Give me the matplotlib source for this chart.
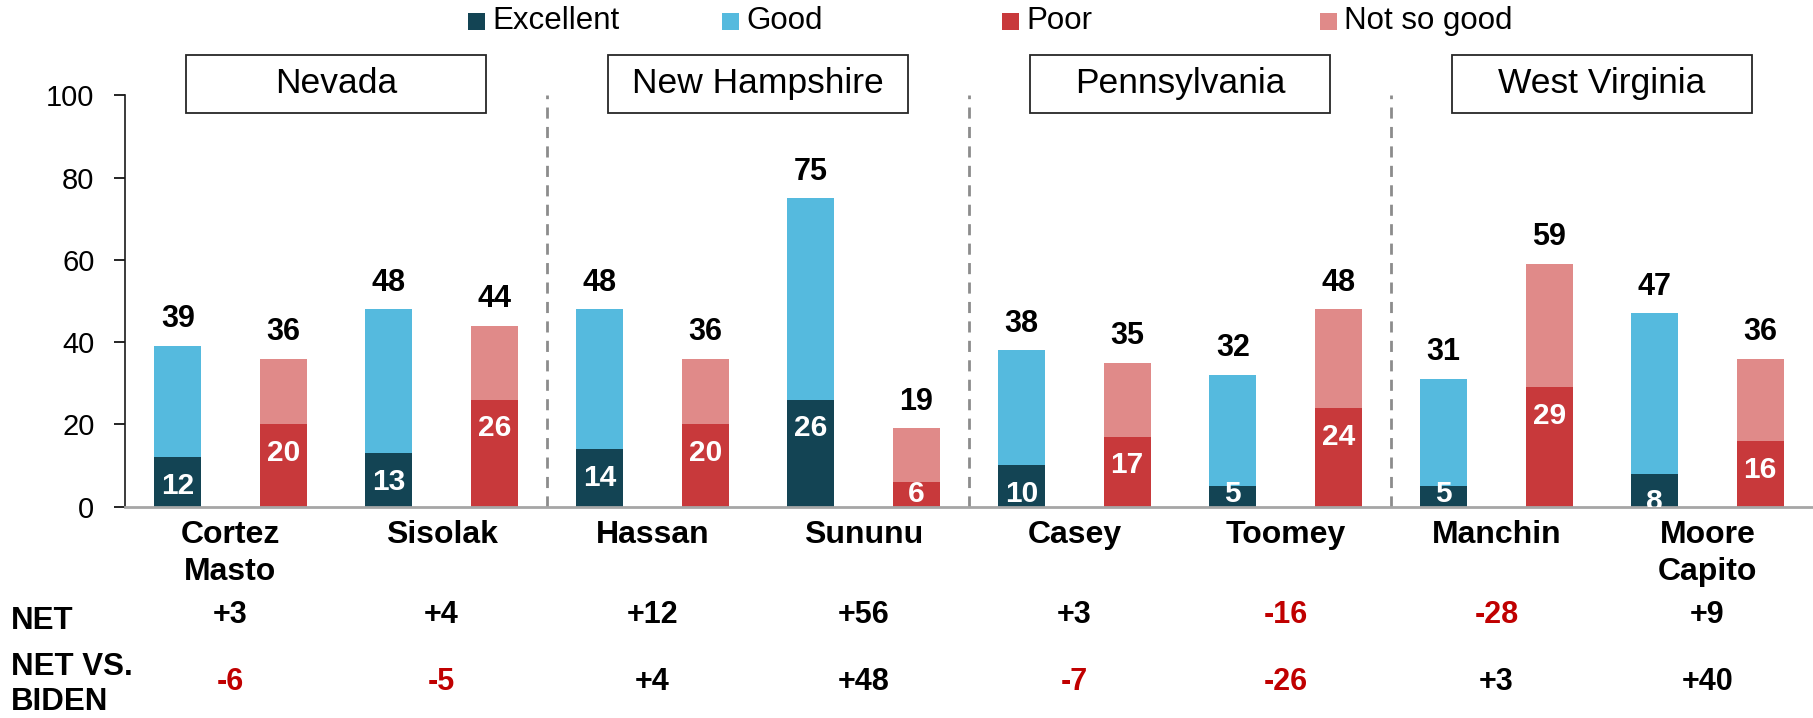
import matplotlib
matplotlib.use("Agg")
import matplotlib.pyplot as plt
from matplotlib.patches import Rectangle
from matplotlib.transforms import blended_transform_factory

plt.rcParams['font.family'] = ['Liberation Sans', 'DejaVu Sans']

# Data
states = ["Nevada", "New Hampshire", "Pennsylvania", "West Virginia"]
candidates = ["Cortez\nMasto", "Sisolak", "Hassan", "Sununu",
              "Casey", "Toomey", "Manchin", "Moore\nCapito"]
excellent = [12, 13, 14, 26, 10, 5, 5, 8]
good = [27, 35, 34, 49, 28, 27, 26, 39]
poor = [20, 26, 20, 6, 17, 24, 29, 16]
not_so_good = [16, 18, 16, 13, 18, 24, 30, 20]
net = [3, 4, 12, 56, 3, -16, -28, 9]
net_vs_biden = [-6, -5, 4, 48, -7, -26, 3, 40]

series_names = ["Excellent", "Good", "Poor", "Not so good"]
colors = {"Excellent": "#134454", "Good": "#55bade",
          "Poor": "#c8393b", "Not so good": "#e08a89"}
neg_red = "#c00000"

W, H = 1813, 718
fig = plt.figure(figsize=(W / 100, H / 100), dpi=100)
ax_left, ax_right, ax_top, ax_bot = 125, 1813, 95.5, 506.5
ax = fig.add_axes([ax_left / W, 1 - ax_bot / H, (ax_right - ax_left) / W, (ax_bot - ax_top) / H])


def px2y(py):
    # figure pixel row -> data value
    return (ax_bot - py) * 100 / (ax_bot - ax_top)


bw = 0.445
n = len(candidates)
pos_x = [2 * k for k in range(n)]
neg_x = [2 * k + 1 for k in range(n)]

ax.bar(pos_x, excellent, bw, color=colors["Excellent"], zorder=2)
ax.bar(pos_x, good, bw, bottom=excellent, color=colors["Good"], zorder=2)
ax.bar(neg_x, poor, bw, color=colors["Poor"], zorder=2)
ax.bar(neg_x, not_so_good, bw, bottom=poor, color=colors["Not so good"], zorder=2)

for k in range(n):
    pos_total = excellent[k] + good[k]
    neg_total = poor[k] + not_so_good[k]
    ax.text(pos_x[k], pos_total + 6.5, str(pos_total), ha='center', va='center',
            fontsize=22, fontweight='bold', color='black')
    ax.text(neg_x[k], neg_total + 6.5, str(neg_total), ha='center', va='center',
            fontsize=22, fontweight='bold', color='black')
    for x, v in ((pos_x[k], excellent[k]), (neg_x[k], poor[k])):
        y = v - 7 if v >= 7 else 3.0
        ax.text(x, y, str(v), ha='center', va='center', fontsize=21.5,
                fontweight='bold', color='white', zorder=3, clip_on=True)

# dashed separators between states
for s in range(1, len(states)):
    ax.plot([4 * s - 0.5, 4 * s - 0.5], [0, 100], ls=(0, (4, 3)), color='#8c8c8c',
            lw=2, zorder=1, clip_on=False)

# state boxes
for s, name in enumerate(states):
    cx = 4 * s + 1.5
    y0, y1 = px2y(112.7), px2y(55)
    ax.add_patch(Rectangle((cx - 1.42, y0), 2.84, y1 - y0, facecolor='white',
                           edgecolor='#262626', lw=1.3, clip_on=False, zorder=4))
    ax.text(cx, (y0 + y1) / 2, name, ha='center', va='center', fontsize=25.5, zorder=5)

ax.set_xlim(-0.5, 2 * n - 0.5)
ax.set_ylim(0, 100)
ax.set_yticks([0, 20, 40, 60, 80, 100])
ax.tick_params(axis='y', labelsize=21, length=8, width=1.2, direction='out', pad=14)
ax.set_xticks([])
for sp in ('top', 'right'):
    ax.spines[sp].set_visible(False)
ax.spines['left'].set_color('#1a1a1a')
ax.spines['left'].set_linewidth(1.2)
ax.spines['bottom'].set_color('#a6a6a6')
ax.spines['bottom'].set_linewidth(2)

# candidate names and NET rows
for k in range(n):
    cx = 2 * k + 0.5
    for i, line in enumerate(candidates[k].split("\n")):
        ax.text(cx, px2y(535 + 37 * i), line, ha='center', va='center', fontsize=23,
                fontweight='bold', clip_on=False)
    ax.text(cx, px2y(615), f"{net[k]:+d}", ha='center', va='center', fontsize=22,
            fontweight='bold', color=neg_red if net[k] < 0 else 'black', clip_on=False)
    ax.text(cx, px2y(682), f"{net_vs_biden[k]:+d}", ha='center', va='center',
            fontsize=22, fontweight='bold',
            color=neg_red if net_vs_biden[k] < 0 else 'black', clip_on=False)

tr = blended_transform_factory(fig.transFigure, ax.transData)
for label, py in (("NET", 621), ("NET VS.", 667), ("BIDEN", 702)):
    ax.text(11 / W, px2y(py), label, transform=tr, ha='left', va='center',
            fontsize=22.5, fontweight='bold')

# legend
leg_x = [468, 722, 1002, 1320]
for name, lx in zip(series_names, leg_x):
    fig.add_artist(Rectangle((lx / W, 1 - 30 / H), 17 / W, 17 / H,
                             transform=fig.transFigure, facecolor=colors[name],
                             edgecolor='none'))
    fig.text((lx + 24) / W, 1 - 21 / H, name, ha='left', va='center', fontsize=22.5)

fig.savefig("out.png", dpi=100)
